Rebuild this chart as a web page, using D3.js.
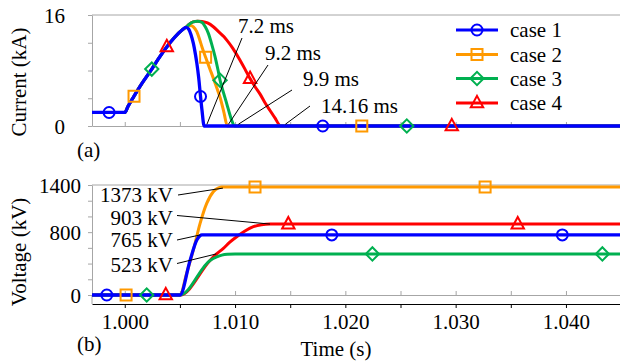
<!DOCTYPE html>
<html>
<head>
<meta charset="utf-8">
<script src="https://cdn.jsdelivr.net/npm/d3@7"></script>
<style>
  html, body { margin: 0; padding: 0; background: #fff; }
  svg { display: block; }
</style>
</head>
<body>
<svg id="chart" width="620" height="362"></svg>
<script>
// ---------------- DATA ----------------
const caseNames = ["case 1", "case 2", "case 3", "case 4"];
const caseColors = ["#0000ff", "#ff9900", "#00b050", "#ff0000"];
const caseSymbols = ["circle", "square", "diamond", "triangle"];

// Current (kA): common rise, then a tail for each case
const riseTime = [0.99703, 1.00000, 1.00030, 1.00084, 1.00150, 1.00245, 1.00310, 1.00381, 1.00450, 1.00517];
const riseKA   = [1.95, 1.95, 2.85, 4.30, 6.00, 8.20, 9.80, 11.40, 12.75, 13.80];

const case1TailTime = [1.00556, 1.00580, 1.00600, 1.00622, 1.00640, 1.00653, 1.00670, 1.00687, 1.00700, 1.00720, 1.04490];
const case1TailKA   = [14.22, 13.95, 13.2, 11.9, 10.4, 9.1, 7.0, 4.25, 2.3, 0, 0];
const case2TailTime = [1.00556, 1.00580, 1.00600, 1.00622, 1.00653, 1.00680, 1.00700, 1.00733, 1.00770, 1.00803, 1.00834, 1.00864, 1.00900, 1.00930, 1.04490];
const case2TailKA   = [14.25, 14.4, 14.5, 14.3, 13.6, 12.4, 11.4, 9.9, 8.3, 6.9, 5.5, 4.15, 1.9, 0, 0];
const case3TailTime = [1.00556, 1.00580, 1.00620, 1.00660, 1.00700, 1.00730, 1.00758, 1.00790, 1.00819, 1.00845, 1.00864, 1.00895, 1.00925, 1.00950, 1.00970, 1.00995, 1.04490];
const case3TailKA   = [14.25, 14.6, 15.0, 15.1, 14.95, 14.3, 13.35, 11.7, 9.96, 8.1, 6.6, 4.8, 3.2, 1.8, 0.8, 0, 0];
const case4TailTime = [1.00556, 1.00580, 1.00620, 1.00660, 1.00700, 1.00750, 1.00803, 1.00850, 1.00900, 1.00925, 1.00980, 1.01045, 1.01090, 1.01136, 1.01180, 1.01227, 1.01270, 1.01317, 1.01360, 1.01416, 1.04490];
const case4TailKA   = [14.25, 14.6, 15.0, 15.1, 15.05, 14.85, 14.31, 13.6, 12.85, 12.38, 11.2, 9.48, 8.2, 6.83, 5.7, 4.6, 3.4, 2.24, 1.2, 0, 0];

// Voltage (kV)
const case1VTime = [0.99703, 1.00501, 1.00592, 1.00653, 1.00680, 1.00700, 1.04490];
const case1KV    = [0, 0, 440, 700, 752, 765, 765];
const case2VTime = [0.99703, 1.00501, 1.00560, 1.00622, 1.00683, 1.00743, 1.00803, 1.00850, 1.00880, 1.04490];
const case2KV    = [0, 0, 270, 573, 912, 1167, 1315, 1362, 1373, 1373];
const case3VTime = [0.99703, 1.00501, 1.00773, 1.00834, 1.00880, 1.00930, 1.01000, 1.04490];
const case3KV    = [0, 0, 440, 485, 508, 519, 523, 523];
const case4VTime = [0.99703, 1.00501, 1.00773, 1.00830, 1.00894, 1.00950, 1.01015, 1.01090, 1.01166, 1.01240, 1.01317, 1.04490];
const case4KV    = [0, 0, 440, 520, 594, 670, 742, 815, 869, 895, 903, 903];

// Marker times
const currentMarkerTimes = [
  [0.99858, 1.00687, 1.01795],
  [1.00084, 1.00733, 1.02149],
  [1.00245, 1.00864, 1.02557],
  [1.00381, 1.01136, 1.02965]
];
const voltageMarkerTimes = [
  [0.99837, 1.01877, 1.03967],
  [1.00012, 1.01181, 1.03267],
  [1.00199, 1.02245, 1.04330],
  [1.00372, 1.01483, 1.03563]
];

// Axis ticks
const timeDomain = [0.99703, 1.04490];
const timeTickLabels = [1.000, 1.010, 1.020, 1.030, 1.040];
const timeMinorTicks = [1.000, 1.005, 1.010, 1.015, 1.020, 1.025, 1.030, 1.035, 1.040];
const currentTicks = [0, 4, 8, 12, 16];
const currentTickLabels = [0, 16];
const voltageTicks = [0, 200, 400, 600, 800, 1000, 1200, 1400];
const voltageTickLabels = [0, 800, 1400];

// Annotations
const currentNotes = ["7.2 ms", "9.2 ms", "9.9 ms", "14.16 ms"];
const currentNoteTimes = [1.00745, 1.00940, 1.01030, 1.01456];
const voltageNotes = ["1373 kV", "903 kV", "765 kV", "523 kV"];
const voltageNoteTimes = [1.00890, 1.01317, 1.00685, 1.00830];
const voltageNoteValues = [1373, 903, 765, 523];

// ---------------- LAYOUT ----------------
const FONT = "'Liberation Serif', 'Times New Roman', Tinos, 'DejaVu Serif', serif";
const FS = "21px";
const svg = d3.select("#chart");
const gray = "#a6a6a6";
const x = d3.scaleLinear().domain(timeDomain).range([92, 620]);
const yI = d3.scaleLinear().domain([0, 16]).range([126, 15]);
const yV = d3.scaleLinear().domain([0, 1400]).range([295, 185]);

function styleText(sel) {
  return sel.style("font-family", FONT).style("font-size", FS).attr("fill", "#000");
}
function addText(g) { return styleText(g.append("text")); }

function zipXY(ts, vs) { return ts.map((t, i) => [t, vs[i]]); }
const currentSeries = [
  zipXY(riseTime, riseKA).concat(zipXY(case1TailTime, case1TailKA)),
  zipXY(riseTime, riseKA).concat(zipXY(case2TailTime, case2TailKA)),
  zipXY(riseTime, riseKA).concat(zipXY(case3TailTime, case3TailKA)),
  zipXY(riseTime, riseKA).concat(zipXY(case4TailTime, case4TailKA))
];
const voltageSeries = [
  zipXY(case1VTime, case1KV), zipXY(case2VTime, case2KV),
  zipXY(case3VTime, case3KV), zipXY(case4VTime, case4KV)
];
function interp(series, t) {
  for (let i = 1; i < series.length; i++) {
    if (t <= series[i][0]) {
      const a = series[i - 1], b = series[i];
      return a[1] + (b[1] - a[1]) * (t - a[0]) / (b[0] - a[0]);
    }
  }
  return series[series.length - 1][1];
}

// Symbols
const triSym = { draw(ctx, size) { const w = 6.2, h = 11.5; ctx.moveTo(0, -h * 0.62); ctx.lineTo(w, h * 0.38); ctx.lineTo(-w, h * 0.38); ctx.closePath(); } };
function symbolPath(kind) {
  if (kind === "circle") return d3.symbol(d3.symbolCircle, 95)();
  if (kind === "square") return d3.symbol(d3.symbolSquare, 121)();
  if (kind === "diamond") return d3.symbol(d3.symbolSquare, 88)();
  return d3.symbol(triSym, 1)();
}
function drawMarker(g, kind, cx, cy, color) {
  g.append("path").attr("d", symbolPath(kind))
    .attr("transform", `translate(${cx},${cy})` + (kind === "diamond" ? " rotate(45)" : ""))
    .attr("fill", "none").attr("stroke", color).attr("stroke-width", 2);
}

// ---------------- AXES / FRAME ----------------
const frame = svg.append("g");
frame.append("line").attr("x1", 92).attr("x2", 620).attr("y1", yI(16)).attr("y2", yI(16)).attr("stroke", gray);
frame.append("line").attr("x1", 92).attr("x2", 620).attr("y1", yV(1400)).attr("y2", yV(1400)).attr("stroke", gray);

const axTopI = frame.append("g").attr("transform", `translate(0,${yI(0)})`)
  .call(d3.axisTop(x).tickValues(timeMinorTicks).tickSize(4).tickFormat("").tickSizeOuter(0));
axTopI.select(".domain").attr("stroke", gray);
axTopI.selectAll(".tick line").attr("stroke", gray);

const axTopV = frame.append("g").attr("transform", `translate(0,${yV(0)})`)
  .call(d3.axisTop(x).tickValues(timeMinorTicks).tickSize(4).tickFormat("").tickSizeOuter(0));
axTopV.select(".domain").attr("stroke", gray);
axTopV.selectAll(".tick line").attr("stroke", gray);

const axT = frame.append("g").attr("transform", "translate(0,304)")
  .call(d3.axisBottom(x).tickValues(timeMinorTicks).tickSize(4).tickSizeOuter(0)
    .tickFormat(d => timeTickLabels.some(v => Math.abs(v - d) < 1e-9) ? d3.format(".3f")(d) : ""));
axT.attr("font-family", null).attr("font-size", null);
axT.select(".domain").attr("stroke", "#000");
axT.selectAll(".tick line").attr("stroke", "#000");
styleText(axT.selectAll(".tick text").attr("y", 18).attr("dy", "0.35em"));

const axI = frame.append("g").attr("transform", "translate(92,0)")
  .call(d3.axisLeft(yI).tickValues(currentTicks).tickSize(4).tickSizeOuter(0)
    .tickFormat(d => currentTickLabels.includes(d) ? d : ""));
axI.attr("font-family", null).attr("font-size", null);
axI.select(".domain").attr("stroke", gray);
axI.selectAll(".tick line").attr("stroke", gray);
styleText(axI.selectAll(".tick text").attr("x", -27).attr("dy", "0.35em"));

const axV = frame.append("g").attr("transform", "translate(92,0)")
  .call(d3.axisLeft(yV).tickValues(voltageTicks).tickSize(4).tickSizeOuter(0)
    .tickFormat(d => voltageTickLabels.includes(d) ? d : ""));
axV.attr("font-family", null).attr("font-size", null);
axV.select(".domain").attr("stroke", gray);
axV.selectAll(".tick line").attr("stroke", gray);
styleText(axV.selectAll(".tick text").attr("x", -11).attr("dy", "0.35em"));
frame.append("line").attr("x1", 92).attr("x2", 92).attr("y1", yV(0)).attr("y2", 304).attr("stroke", gray);

// titles
addText(svg).attr("transform", "translate(19,82) rotate(-90)").attr("text-anchor", "middle").attr("dy", "0.35em").text("Current (kA)");
addText(svg).attr("transform", "translate(19,252) rotate(-90)").attr("text-anchor", "middle").attr("dy", "0.35em").text("Voltage (kV)");
addText(svg).attr("x", 77).attr("y", 150).attr("dy", "0.35em").text("(a)");
addText(svg).attr("x", 77).attr("y", 344).attr("dy", "0.35em").text("(b)");
addText(svg).attr("x", 336).attr("y", 349).attr("text-anchor", "middle").attr("dy", "0.35em").text("Time (s)");

// ---------------- LINES ----------------
const drawOrder = [3, 1, 2, 0];
const lineI = d3.line().x(d => x(d[0])).y(d => yI(d[1])).curve(d3.curveMonotoneX);
const lineV = d3.line().x(d => x(d[0])).y(d => yV(d[1])).curve(d3.curveMonotoneX);
const linesG = svg.append("g");
drawOrder.forEach(i => {
  linesG.append("path").attr("d", lineI(currentSeries[i])).attr("fill", "none")
    .attr("stroke", caseColors[i]).attr("stroke-width", i === 0 ? 3.3 : 3).attr("stroke-linejoin", "round");
  linesG.append("path").attr("d", lineV(voltageSeries[i])).attr("fill", "none")
    .attr("stroke", caseColors[i]).attr("stroke-width", i === 0 ? 3.3 : 3).attr("stroke-linejoin", "round");
});

// ---------------- MARKERS ----------------
const markG = svg.append("g");
drawOrder.forEach(i => {
  currentMarkerTimes[i].forEach(t => drawMarker(markG, caseSymbols[i], x(t), yI(interp(currentSeries[i], t)), caseColors[i]));
  voltageMarkerTimes[i].forEach(t => drawMarker(markG, caseSymbols[i], x(t), yV(interp(voltageSeries[i], t)), caseColors[i]));
});

// ---------------- ANNOTATIONS ----------------
const noteG = svg.append("g");
const currentNotePos = [[238, 26, 242, 38], [265, 53, 268, 65], [303, 79, 292, 90], [321, 106, 310, 106]];
currentNotes.forEach((s, i) => {
  const p = currentNotePos[i];
  noteG.append("line").attr("x1", x(currentNoteTimes[i])).attr("y1", yI(0.25)).attr("x2", p[2]).attr("y2", p[3])
    .attr("stroke", "#000").attr("stroke-width", 1);
  addText(noteG).attr("x", p[0]).attr("y", p[1]).attr("dy", "0.35em").text(s);
});
const voltageNotePos = [[173, 195, 178, 195], [173, 218, 177, 215.5], [173, 240, 177, 240], [173, 265, 177, 263.5]];
voltageNotes.forEach((s, i) => {
  const p = voltageNotePos[i];
  noteG.append("line").attr("x1", p[2]).attr("y1", p[3])
    .attr("x2", x(voltageNoteTimes[i])).attr("y2", yV(voltageNoteValues[i]) + (i === 0 ? 1 : 0))
    .attr("stroke", "#000").attr("stroke-width", 1);
  addText(noteG).attr("x", p[0]).attr("y", p[1]).attr("dy", "0.35em").attr("text-anchor", "end").text(s);
});

// ---------------- LEGEND ----------------
const legG = svg.append("g");
const legY = [30, 54.5, 78.5, 103];
caseNames.forEach((n, i) => {
  legG.append("line").attr("x1", 456).attr("x2", 498).attr("y1", legY[i]).attr("y2", legY[i])
    .attr("stroke", caseColors[i]).attr("stroke-width", 3);
  drawMarker(legG, caseSymbols[i], 477, legY[i], caseColors[i]);
  addText(legG).attr("x", 510).attr("y", legY[i]).attr("dy", "0.35em").text(n);
});
</script>
</body>
</html>
